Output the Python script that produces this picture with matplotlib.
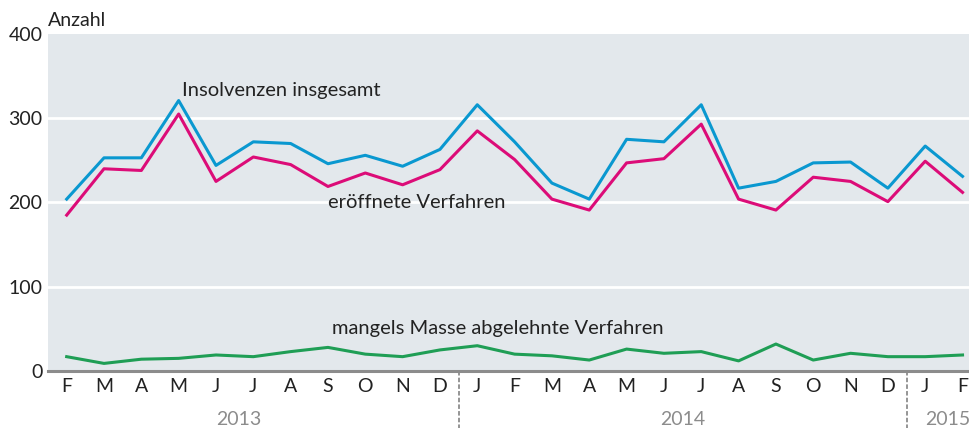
import matplotlib.pyplot as plt
import matplotlib.transforms as mtransforms

plt.rcParams['font.family'] = ['Lato', 'DejaVu Sans']

months = ['F', 'M', 'A', 'M', 'J', 'J', 'A', 'S', 'O', 'N', 'D',
          'J', 'F', 'M', 'A', 'M', 'J', 'J', 'A', 'S', 'O', 'N', 'D',
          'J', 'F']
years = ['2013', '2014', '2015']

insgesamt = [204, 253, 253, 321, 244, 272, 270, 246, 256, 243, 263,
             316, 272, 223, 204, 275, 272, 316, 217, 225, 247, 248, 217,
             267, 231]
eroeffnet = [185, 240, 238, 305, 225, 254, 245, 219, 235, 221, 239,
             285, 251, 204, 191, 247, 252, 293, 204, 191, 230, 225, 201,
             249, 212]
abgelehnt = [17, 9, 14, 15, 19, 17, 23, 28, 20, 17, 25,
             30, 20, 18, 13, 26, 21, 23, 12, 32, 13, 21, 17,
             17, 19]

x = list(range(len(months)))
txt = '#222222'

fig = plt.figure(figsize=(9.7, 4.28), dpi=100)
ax = fig.add_axes([0.0495, 0.1332, 0.9505, 0.7874])
ax.set_facecolor('#e3e8ec')

ax.plot(x, insgesamt, color='#0a98d0', lw=2.2, zorder=3)
ax.plot(x, eroeffnet, color='#dc0c78', lw=2.2, zorder=3)
ax.plot(x, abgelehnt, color='#1f9e55', lw=2.2, zorder=3)

ax.set_xlim(-0.5, 24.2)
ax.set_ylim(0, 400)
ax.set_yticks([0, 100, 200, 300, 400])
ax.set_xticks(x)
ax.set_xticklabels(months)
ax.tick_params(axis='both', length=0, labelsize=14, colors=txt)
ax.tick_params(axis='x', pad=5)
ax.tick_params(axis='y', pad=4)

for v in [100, 200, 300]:
    ax.axhline(v, color='white', lw=2, zorder=1)

for s in ax.spines.values():
    s.set_visible(False)
ax.axhline(0, color='#8c8c8c', lw=2.2, zorder=4, clip_on=False)

# Trennlinien zwischen den Jahren
trans = mtransforms.blended_transform_factory(ax.transData, ax.transAxes)
for xs in [10.5, 22.5]:
    ax.plot([xs, xs], [0, -0.175], transform=trans, color='#8c8c8c',
            lw=1.3, ls=(0, (2.5, 1.2)), clip_on=False)
year_pos = [4.6, 16.5, 23.6]
for yp, yr in zip(year_pos, years):
    ax.text(yp, -0.145, yr, transform=trans, ha='center', va='center',
            fontsize=14, color='#8c8c8c')

ax.text(-0.5, 1.015, 'Anzahl', transform=trans, ha='left', va='bottom',
        fontsize=14, color=txt)

ax.text(3.1, 333, 'Insolvenzen insgesamt', ha='left', va='center',
        fontsize=14.5, color=txt)
ax.text(7.0, 200, 'eröffnete Verfahren', ha='left', va='center',
        fontsize=14.5, color=txt)
ax.text(7.1, 51, 'mangels Masse abgelehnte Verfahren', ha='left',
        va='center', fontsize=14.5, color=txt)

fig.savefig('out.png', dpi=100)
